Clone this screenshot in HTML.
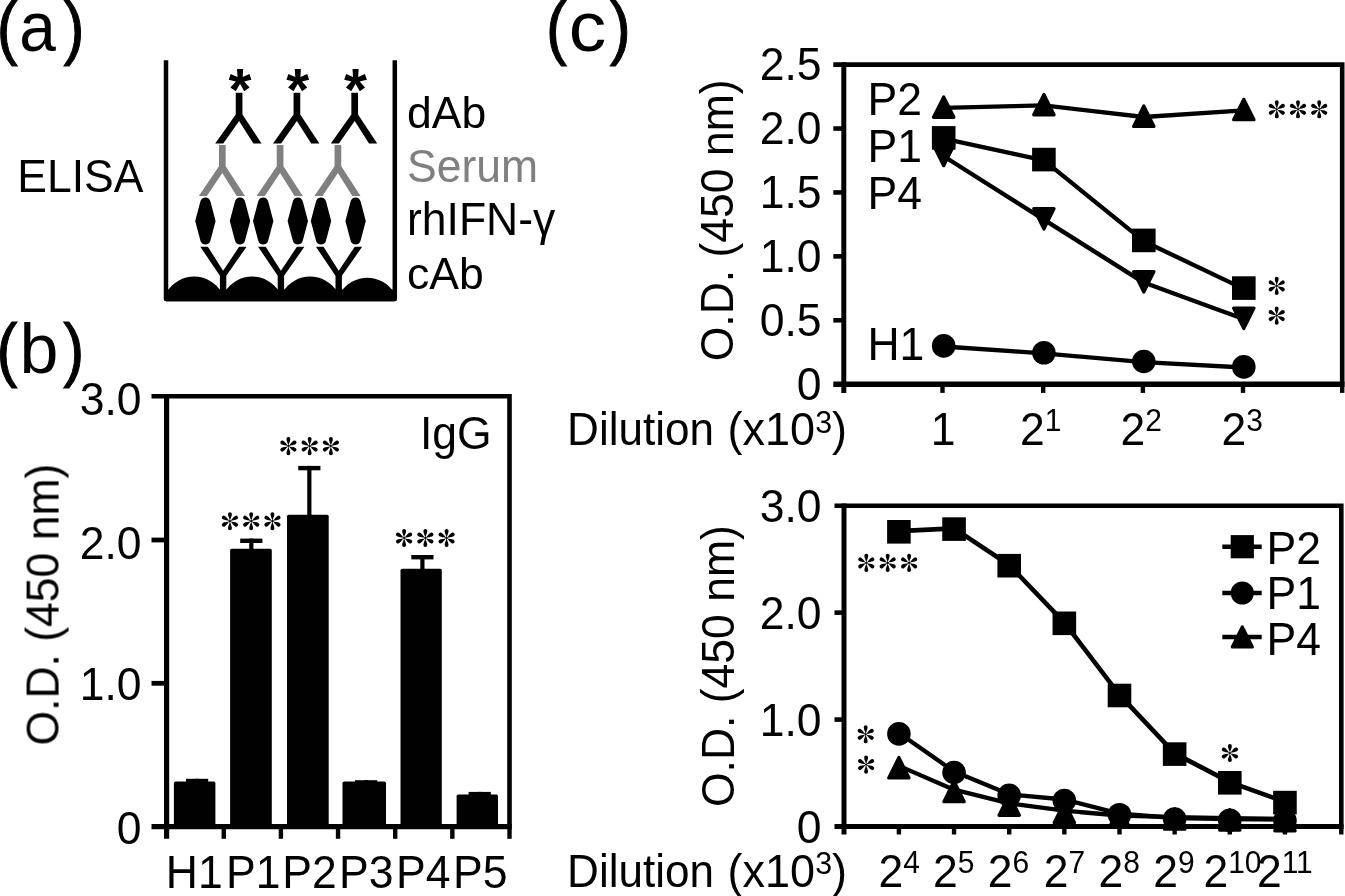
<!DOCTYPE html>
<html><head><meta charset="utf-8"><title>Figure</title>
<style>
html,body{margin:0;padding:0;background:#fff;}
body{width:1345px;height:896px;overflow:hidden;font-family:"Liberation Sans",sans-serif;}
svg{display:block;}
</style></head><body>
<svg width="1345" height="896" viewBox="0 0 1345 896" style="will-change:transform">
<defs><g id="ast"><circle r="1.1"/><path id="pet" d="M0 -0.3 C-0.5 -2.6 -1.95 -5 -1.95 -7.1 A1.95 1.95 0 0 1 1.95 -7.1 C1.95 -5 0.5 -2.6 0 -0.3 Z"/><use href="#pet" transform="rotate(60)"/><use href="#pet" transform="rotate(120)"/><use href="#pet" transform="rotate(180)"/><use href="#pet" transform="rotate(240)"/><use href="#pet" transform="rotate(300)"/></g></defs>
<rect width="1345" height="896" fill="#fff"/>
<g opacity="0.999">
<text transform="translate(-3.3,51) scale(0.9,1)" font-size="70" font-family="Liberation Sans, sans-serif" stroke="#000" stroke-width="1">(</text>
<text transform="translate(63.45,51) scale(0.9,1)" font-size="70" font-family="Liberation Sans, sans-serif" stroke="#000" stroke-width="1">)</text>
<text transform="translate(19.2,51) scale(0.94,1)" font-size="70" fill="#000" font-family="Liberation Sans, sans-serif" text-anchor="start" font-weight="normal">a</text>
<text transform="translate(-3.5,373.1) scale(0.9,1)" font-size="70" font-family="Liberation Sans, sans-serif" stroke="#000" stroke-width="1">(</text>
<text transform="translate(63.35,373.1) scale(0.9,1)" font-size="70" font-family="Liberation Sans, sans-serif" stroke="#000" stroke-width="1">)</text>
<text transform="translate(19.5,373.1) scale(1.0,1)" font-size="70" fill="#000" font-family="Liberation Sans, sans-serif" text-anchor="start" font-weight="normal">b</text>
<text transform="translate(546.0,51.3) scale(0.9,1)" font-size="70" font-family="Liberation Sans, sans-serif" stroke="#000" stroke-width="1">(</text>
<text transform="translate(609.85,51.3) scale(0.9,1)" font-size="70" font-family="Liberation Sans, sans-serif" stroke="#000" stroke-width="1">)</text>
<text transform="translate(568.7,51.3) scale(1.07,1)" font-size="70" fill="#000" font-family="Liberation Sans, sans-serif" text-anchor="start" font-weight="normal">c</text>
<text transform="translate(17.3,192) scale(1,1.035)" font-size="44.5" fill="#000" font-family="Liberation Sans, sans-serif" text-anchor="start" font-weight="normal">ELISA</text>
<text transform="translate(407,128) scale(1,1)" font-size="44.5" fill="#000" font-family="Liberation Sans, sans-serif" text-anchor="start" font-weight="normal">dAb</text>
<text transform="translate(407,181.8) scale(1,1.02)" font-size="44.5" fill="#808080" font-family="Liberation Sans, sans-serif" text-anchor="start" font-weight="normal">Serum</text>
<text transform="translate(407,234.9) scale(1,1.02)" font-size="44.5" fill="#000" font-family="Liberation Sans, sans-serif" text-anchor="start" font-weight="normal">rhIFN-γ</text>
<text transform="translate(407,288.6) scale(1,1)" font-size="44.5" fill="#000" font-family="Liberation Sans, sans-serif" text-anchor="start" font-weight="normal">cAb</text>
<path d="M166 60.3 V299 H394.8 V60.3" fill="none" stroke="#000" stroke-width="4.5" stroke-linejoin="round"/>
<rect x="166" y="289.5" width="228.8" height="11.8" fill="#000"/>
<path d="M167 292 A31.5 31.5 0 0 1 221.2 292 Z" fill="#000"/>
<path d="M225 292 A31.5 31.5 0 0 1 279.2 292 Z" fill="#000"/>
<path d="M283 292 A31.5 31.5 0 0 1 337.2 292 Z" fill="#000"/>
<path d="M341 292 A31.5 31.5 0 0 1 393.6 292 Z" fill="#000"/>
<path d="M219.9 292 V275.7 L200.3 246.7 H207.9 L223.1 270.7 L239.1 246.7 H246.6 L226.29999999999998 275.7 V292 Z" fill="#000"/>
<path d="M195.20000000000002 221 L200.3 201.8 C201.4 196 209.4 196 210.5 201.8 L215.6 221 L210.5 240.2 C209.4 246 201.4 246 200.3 240.2 Z" fill="#000"/>
<path d="M229.8 221 L234.9 201.8 C236.0 196 244.0 196 245.1 201.8 L250.2 221 L245.1 240.2 C244.0 246 236.0 246 234.9 240.2 Z" fill="#000"/>
<path d="M218.95000000000002 145.1 H225.65 V166.3 L245.0 196 H236.7 L222.3 173 L206.9 196 H198.8 L218.95000000000002 166.3 Z" fill="#808080"/>
<path d="M235.75 92.7 H242.45 V114.4 L261.6 143.4 H253.4 L239.1 121.1 L223.3 143.4 H215.2 L235.75 114.4 Z" fill="#000"/>
<text transform="translate(239.9,109.7) scale(1,1)" font-size="59" fill="#000" font-family="Liberation Sans, sans-serif" text-anchor="middle" font-weight="bold">*</text>
<path d="M277.7 292 V275.7 L258.1 246.7 H265.7 L280.9 270.7 L296.9 246.7 H304.4 L284.09999999999997 275.7 V292 Z" fill="#000"/>
<path d="M253.0 221 L258.09999999999997 201.8 C259.2 196 267.2 196 268.3 201.8 L273.4 221 L268.3 240.2 C267.2 246 259.2 246 258.09999999999997 240.2 Z" fill="#000"/>
<path d="M287.6 221 L292.7 201.8 C293.8 196 301.8 196 302.90000000000003 201.8 L308.0 221 L302.90000000000003 240.2 C301.8 246 293.8 246 292.7 240.2 Z" fill="#000"/>
<path d="M276.75 145.1 H283.45000000000005 V166.3 L302.8 196 H294.5 L280.1 173 L264.7 196 H256.6 L276.75 166.3 Z" fill="#808080"/>
<path d="M293.54999999999995 92.7 H300.25 V114.4 L319.40000000000003 143.4 H311.2 L296.9 121.1 L281.1 143.4 H273.0 L293.54999999999995 114.4 Z" fill="#000"/>
<text transform="translate(297.7,109.7) scale(1,1)" font-size="59" fill="#000" font-family="Liberation Sans, sans-serif" text-anchor="middle" font-weight="bold">*</text>
<path d="M335.5 292 V275.7 L315.9 246.7 H323.5 L338.7 270.7 L354.7 246.7 H362.2 L341.9 275.7 V292 Z" fill="#000"/>
<path d="M310.8 221 L315.9 201.8 C317.0 196 325.0 196 326.1 201.8 L331.2 221 L326.1 240.2 C325.0 246 317.0 246 315.9 240.2 Z" fill="#000"/>
<path d="M345.40000000000003 221 L350.5 201.8 C351.6 196 359.6 196 360.70000000000005 201.8 L365.8 221 L360.70000000000005 240.2 C359.6 246 351.6 246 350.5 240.2 Z" fill="#000"/>
<path d="M334.54999999999995 145.1 H341.25 V166.3 L360.6 196 H352.29999999999995 L337.9 173 L322.5 196 H314.4 L334.54999999999995 166.3 Z" fill="#808080"/>
<path d="M351.34999999999997 92.7 H358.05 V114.4 L377.20000000000005 143.4 H369.0 L354.7 121.1 L338.9 143.4 H330.79999999999995 L351.34999999999997 114.4 Z" fill="#000"/>
<text transform="translate(355.5,109.7) scale(1,1)" font-size="59" fill="#000" font-family="Liberation Sans, sans-serif" text-anchor="middle" font-weight="bold">*</text>
<path d="M151.5 396.3 H509.5 V826.6" fill="none" stroke="#000" stroke-width="4.6"/>
<path d="M166.6 394.0 V838.8" fill="none" stroke="#000" stroke-width="5.2"/>
<path d="M151.5 826.6 H511.8" fill="none" stroke="#000" stroke-width="5.4"/>
<path d="M151.5 540 H166.6" stroke="#000" stroke-width="4.8"/>
<path d="M151.5 683.3 H166.6" stroke="#000" stroke-width="4.8"/>
<path d="M223.75 826.6 V838.8" stroke="#000" stroke-width="4.4"/>
<path d="M280.9 826.6 V838.8" stroke="#000" stroke-width="4.4"/>
<path d="M338.04999999999995 826.6 V838.8" stroke="#000" stroke-width="4.4"/>
<path d="M395.2 826.6 V838.8" stroke="#000" stroke-width="4.4"/>
<path d="M452.35 826.6 V838.8" stroke="#000" stroke-width="4.4"/>
<path d="M509.5 826.6 V838.8" stroke="#000" stroke-width="4.4"/>
<rect x="173.9" y="781.5" width="41.5" height="45.1" rx="1.6" fill="#000"/>
<rect x="195.0" y="778.8" width="4.2" height="3.7" fill="#000"/>
<rect x="186.0" y="778.8" width="22.2" height="4.4" fill="#000"/>
<rect x="230.1" y="548.8" width="41.7" height="277.8" rx="1.6" fill="#000"/>
<rect x="249.2" y="538.6" width="4.2" height="11.2" fill="#000"/>
<rect x="240.2" y="538.6" width="22.2" height="4.4" fill="#000"/>
<rect x="287.0" y="514.7" width="41.7" height="311.9" rx="1.6" fill="#000"/>
<rect x="307.25" y="465.9" width="4.2" height="49.8" fill="#000"/>
<rect x="298.25" y="465.9" width="22.2" height="4.4" fill="#000"/>
<rect x="342.5" y="781.6" width="43.5" height="45.0" rx="1.6" fill="#000"/>
<rect x="364.0" y="780.2" width="4.2" height="2.4" fill="#000"/>
<rect x="355.0" y="780.2" width="22.2" height="4.4" fill="#000"/>
<rect x="400.5" y="568.8" width="41.3" height="257.8" rx="1.6" fill="#000"/>
<rect x="420.3" y="555.0" width="4.2" height="14.8" fill="#000"/>
<rect x="411.3" y="555.0" width="22.2" height="4.4" fill="#000"/>
<rect x="456.6" y="794.5" width="41.4" height="32.1" rx="1.6" fill="#000"/>
<rect x="477.6" y="791.9" width="4.2" height="3.6" fill="#000"/>
<rect x="468.6" y="791.9" width="22.2" height="4.4" fill="#000"/>
<text transform="translate(141.6,415.0) scale(1,1.035)" font-size="44.5" fill="#000" font-family="Liberation Sans, sans-serif" text-anchor="end" font-weight="normal">3.0</text>
<text transform="translate(141.6,559.2) scale(1,1.035)" font-size="44.5" fill="#000" font-family="Liberation Sans, sans-serif" text-anchor="end" font-weight="normal">2.0</text>
<text transform="translate(141.6,699.6) scale(1,1.035)" font-size="44.5" fill="#000" font-family="Liberation Sans, sans-serif" text-anchor="end" font-weight="normal">1.0</text>
<text transform="translate(141.6,844.4) scale(1,1.035)" font-size="44.5" fill="#000" font-family="Liberation Sans, sans-serif" text-anchor="end" font-weight="normal">0</text>
<text transform="translate(58.8,745.5) rotate(-90) scale(1,1.03)" font-size="44.5" font-family="Liberation Sans, sans-serif">O.D. (450 nm)</text>
<text transform="translate(419.9,449.2) scale(1,1.035)" font-size="44.5" fill="#000" font-family="Liberation Sans, sans-serif" text-anchor="start" font-weight="normal">IgG</text>
<use href="#ast" x="229.95" y="521.2"/>
<use href="#ast" x="251.2" y="521.2"/>
<use href="#ast" x="272.45" y="521.2"/>
<use href="#ast" x="288.4" y="446.1"/>
<use href="#ast" x="309.65" y="446.1"/>
<use href="#ast" x="330.9" y="446.1"/>
<use href="#ast" x="404.1" y="538.0"/>
<use href="#ast" x="425.35" y="538.0"/>
<use href="#ast" x="446.6" y="538.0"/>
<text transform="translate(165.8,887.5) scale(1,1.035)" font-size="44.5" fill="#000" font-family="Liberation Sans, sans-serif" text-anchor="start" font-weight="normal">H1</text>
<text transform="translate(226.0,887.5) scale(1,1.035)" font-size="44.5" fill="#000" font-family="Liberation Sans, sans-serif" text-anchor="start" font-weight="normal">P1</text>
<text transform="translate(282.3,887.5) scale(1,1.035)" font-size="44.5" fill="#000" font-family="Liberation Sans, sans-serif" text-anchor="start" font-weight="normal">P2</text>
<text transform="translate(339.0,887.5) scale(1,1.035)" font-size="44.5" fill="#000" font-family="Liberation Sans, sans-serif" text-anchor="start" font-weight="normal">P3</text>
<text transform="translate(396.0,887.5) scale(1,1.035)" font-size="44.5" fill="#000" font-family="Liberation Sans, sans-serif" text-anchor="start" font-weight="normal">P4</text>
<text transform="translate(453.0,887.5) scale(1,1.035)" font-size="44.5" fill="#000" font-family="Liberation Sans, sans-serif" text-anchor="start" font-weight="normal">P5</text>
<path d="M833.3 64.6 H1342.2 V384.2" fill="none" stroke="#000" stroke-width="4.6"/>
<path d="M843.8 62.3 V392.9" fill="none" stroke="#000" stroke-width="5"/>
<path d="M833.3 384.2 H1344.5" fill="none" stroke="#000" stroke-width="5.6"/>
<path d="M833.3 128.51999999999998 H843.8" stroke="#000" stroke-width="4.6"/>
<path d="M833.3 192.44 H843.8" stroke="#000" stroke-width="4.6"/>
<path d="M833.3 256.36 H843.8" stroke="#000" stroke-width="4.6"/>
<path d="M833.3 320.28 H843.8" stroke="#000" stroke-width="4.6"/>
<path d="M942.5 384.2 V392.9" stroke="#000" stroke-width="4.4"/>
<path d="M1043.2 384.2 V392.9" stroke="#000" stroke-width="4.4"/>
<path d="M1142.9 384.2 V392.9" stroke="#000" stroke-width="4.4"/>
<path d="M1243.0 384.2 V392.9" stroke="#000" stroke-width="4.4"/>
<path d="M1342.2 384.2 V392.9" stroke="#000" stroke-width="4.4"/>
<text transform="translate(821.5,80.39999999999999) scale(1,1.035)" font-size="44.5" fill="#000" font-family="Liberation Sans, sans-serif" text-anchor="end" font-weight="normal">2.5</text>
<text transform="translate(821.5,144.32) scale(1,1.035)" font-size="44.5" fill="#000" font-family="Liberation Sans, sans-serif" text-anchor="end" font-weight="normal">2.0</text>
<text transform="translate(821.5,208.24) scale(1,1.035)" font-size="44.5" fill="#000" font-family="Liberation Sans, sans-serif" text-anchor="end" font-weight="normal">1.5</text>
<text transform="translate(821.5,272.16) scale(1,1.035)" font-size="44.5" fill="#000" font-family="Liberation Sans, sans-serif" text-anchor="end" font-weight="normal">1.0</text>
<text transform="translate(821.5,336.08) scale(1,1.035)" font-size="44.5" fill="#000" font-family="Liberation Sans, sans-serif" text-anchor="end" font-weight="normal">0.5</text>
<text transform="translate(821.5,400.2) scale(1,1.035)" font-size="44.5" fill="#000" font-family="Liberation Sans, sans-serif" text-anchor="end" font-weight="normal">0</text>
<text transform="translate(733.4,361.3) rotate(-90) scale(1,1.03)" font-size="44.5" font-family="Liberation Sans, sans-serif">O.D. (450 nm)</text>
<text transform="translate(867.5,115) scale(1,1.035)" font-size="44.5" fill="#000" font-family="Liberation Sans, sans-serif" text-anchor="start" font-weight="normal">P2</text>
<text transform="translate(867.5,161.6) scale(1,1.035)" font-size="44.5" fill="#000" font-family="Liberation Sans, sans-serif" text-anchor="start" font-weight="normal">P1</text>
<text transform="translate(867.5,208.5) scale(1,1.035)" font-size="44.5" fill="#000" font-family="Liberation Sans, sans-serif" text-anchor="start" font-weight="normal">P4</text>
<text transform="translate(867.5,359.6) scale(1,1.035)" font-size="44.5" fill="#000" font-family="Liberation Sans, sans-serif" text-anchor="start" font-weight="normal">H1</text>
<path d="M943.7 346.5 L1043.9 353.4 L1143.8 362.1 L1243.8 367.5" fill="none" stroke="#000" stroke-width="4.3" stroke-linejoin="round"/>
<circle cx="943.7" cy="345.9" r="11.8" fill="#000"/>
<circle cx="1043.9" cy="352.8" r="11.8" fill="#000"/>
<circle cx="1143.8" cy="361.5" r="11.8" fill="#000"/>
<circle cx="1243.8" cy="366.9" r="11.8" fill="#000"/>
<path d="M943.7 156.3 L1043.9 219.6 L1143.8 282.6 L1243.8 319.1" fill="none" stroke="#000" stroke-width="4.3" stroke-linejoin="round"/>
<path d="M943.7 165.7 L953.9000000000001 145.3 H933.5 Z" fill="#000" stroke="#000" stroke-width="3.2" stroke-linejoin="round"/>
<path d="M1043.9 229.0 L1054.1000000000001 208.60000000000002 H1033.7 Z" fill="#000" stroke="#000" stroke-width="3.2" stroke-linejoin="round"/>
<path d="M1143.8 292.0 L1154.0 271.6 H1133.6 Z" fill="#000" stroke="#000" stroke-width="3.2" stroke-linejoin="round"/>
<path d="M1243.8 328.5 L1254.0 308.1 H1233.6 Z" fill="#000" stroke="#000" stroke-width="3.2" stroke-linejoin="round"/>
<path d="M943.7 138.7 L1043.9 160.4 L1143.8 241.2 L1243.8 288.9" fill="none" stroke="#000" stroke-width="4.3" stroke-linejoin="round"/>
<rect x="931.9000000000001" y="126.10000000000001" width="23.6" height="23.6" fill="#000"/>
<rect x="1032.1000000000001" y="147.79999999999998" width="23.6" height="23.6" fill="#000"/>
<rect x="1132.0" y="228.6" width="23.6" height="23.6" fill="#000"/>
<rect x="1232.0" y="276.3" width="23.6" height="23.6" fill="#000"/>
<path d="M943.7 107.9 L1043.9 105.4 L1143.8 117.0 L1243.8 110.3" fill="none" stroke="#000" stroke-width="4.3" stroke-linejoin="round"/>
<path d="M943.7 96.89999999999999 L953.9000000000001 117.3 H933.5 Z" fill="#000" stroke="#000" stroke-width="3.2" stroke-linejoin="round"/>
<path d="M1043.9 94.39999999999999 L1054.1000000000001 114.8 H1033.7 Z" fill="#000" stroke="#000" stroke-width="3.2" stroke-linejoin="round"/>
<path d="M1143.8 106.0 L1154.0 126.4 H1133.6 Z" fill="#000" stroke="#000" stroke-width="3.2" stroke-linejoin="round"/>
<path d="M1243.8 99.3 L1254.0 119.7 H1233.6 Z" fill="#000" stroke="#000" stroke-width="3.2" stroke-linejoin="round"/>
<use href="#ast" x="1276.8" y="109.3"/>
<use href="#ast" x="1298.0" y="109.3"/>
<use href="#ast" x="1319.2" y="109.3"/>
<use href="#ast" x="1276.7" y="285.9"/>
<use href="#ast" x="1276.7" y="315.6"/>
<text transform="translate(567.1,444.8) scale(0.99,1.03)" font-size="44.5" font-family="Liberation Sans, sans-serif">Dilution</text>
<text transform="translate(727.6,444.8) scale(1.0115,1.03)" font-size="44.5" font-family="Liberation Sans, sans-serif">(x10<tspan font-size="30" dy="-11.3">3</tspan><tspan dy="11.3">)</tspan></text>
<text transform="translate(943.2,444.5) scale(1,1.035)" font-size="44.5" fill="#000" font-family="Liberation Sans, sans-serif" text-anchor="middle" font-weight="normal">1</text>
<text transform="translate(1020.1,444.5) scale(1,1.035)" font-size="44.5" font-family="Liberation Sans, sans-serif">2<tspan font-size="30" dy="-12.8" dx="0">1</tspan></text>
<text transform="translate(1120.4,444.5) scale(1,1.035)" font-size="44.5" font-family="Liberation Sans, sans-serif">2<tspan font-size="30" dy="-12.8" dx="0">2</tspan></text>
<text transform="translate(1221.5,444.5) scale(1,1.035)" font-size="44.5" font-family="Liberation Sans, sans-serif">2<tspan font-size="30" dy="-12.8" dx="0">3</tspan></text>
<path d="M834.5 505.7 H1341.3 V826.5" fill="none" stroke="#000" stroke-width="4.6"/>
<path d="M844 503.4 V834.5" fill="none" stroke="#000" stroke-width="5"/>
<path d="M834.5 826.5 H1343.6" fill="none" stroke="#000" stroke-width="5.2"/>
<path d="M834.5 612.63 H844" stroke="#000" stroke-width="4.6"/>
<path d="M834.5 719.56 H844" stroke="#000" stroke-width="4.6"/>
<path d="M898.9 826.5 V834.5" stroke="#000" stroke-width="4.4"/>
<path d="M954.05 826.5 V834.5" stroke="#000" stroke-width="4.4"/>
<path d="M1009.1999999999999 826.5 V834.5" stroke="#000" stroke-width="4.4"/>
<path d="M1064.35 826.5 V834.5" stroke="#000" stroke-width="4.4"/>
<path d="M1119.5 826.5 V834.5" stroke="#000" stroke-width="4.4"/>
<path d="M1174.65 826.5 V834.5" stroke="#000" stroke-width="4.4"/>
<path d="M1229.8 826.5 V834.5" stroke="#000" stroke-width="4.4"/>
<path d="M1284.95 826.5 V834.5" stroke="#000" stroke-width="4.4"/>
<path d="M1341.3 826.5 V834.5" stroke="#000" stroke-width="4.4"/>
<text transform="translate(821.5,522.2) scale(1,1.035)" font-size="44.5" fill="#000" font-family="Liberation Sans, sans-serif" text-anchor="end" font-weight="normal">3.0</text>
<text transform="translate(821.5,629.13) scale(1,1.035)" font-size="44.5" fill="#000" font-family="Liberation Sans, sans-serif" text-anchor="end" font-weight="normal">2.0</text>
<text transform="translate(821.5,736.06) scale(1,1.035)" font-size="44.5" fill="#000" font-family="Liberation Sans, sans-serif" text-anchor="end" font-weight="normal">1.0</text>
<text transform="translate(821.5,843.2) scale(1,1.035)" font-size="44.5" fill="#000" font-family="Liberation Sans, sans-serif" text-anchor="end" font-weight="normal">0</text>
<text transform="translate(733.6,807) rotate(-90) scale(1,1.03)" font-size="44.5" font-family="Liberation Sans, sans-serif">O.D. (450 nm)</text>
<path d="M898.9 531.1 L954.05 528.4 L1009.1999999999999 565.0 L1064.35 622.6 L1119.5 694.8 L1174.65 753.4 L1229.8 782.1 L1284.95 801.9" fill="none" stroke="#000" stroke-width="4.6" stroke-linejoin="round"/>
<rect x="887.1" y="520.0" width="23.6" height="23.6" fill="#000"/>
<rect x="942.25" y="517.3000000000001" width="23.6" height="23.6" fill="#000"/>
<rect x="997.4" y="553.9000000000001" width="23.6" height="23.6" fill="#000"/>
<rect x="1052.55" y="611.5" width="23.6" height="23.6" fill="#000"/>
<rect x="1107.7" y="683.7" width="23.6" height="23.6" fill="#000"/>
<rect x="1162.8500000000001" y="742.3000000000001" width="23.6" height="23.6" fill="#000"/>
<rect x="1218.0" y="771.0" width="23.6" height="23.6" fill="#000"/>
<rect x="1273.15" y="790.8000000000001" width="23.6" height="23.6" fill="#000"/>
<path d="M898.9 765.9 L954.05 789.7 L1009.1999999999999 803.3 L1064.35 810.7 L1119.5 815.5 L1174.65 817.2 L1229.8 818.1 L1284.95 818.8" fill="none" stroke="#000" stroke-width="4.3" stroke-linejoin="round"/>
<path d="M898.9 757.5 L909.1 777.9000000000001 H888.6999999999999 Z" fill="#000" stroke="#000" stroke-width="3.2" stroke-linejoin="round"/>
<path d="M954.05 781.3 L964.25 801.7 H943.8499999999999 Z" fill="#000" stroke="#000" stroke-width="3.2" stroke-linejoin="round"/>
<path d="M1009.1999999999999 794.9 L1019.4 815.3000000000001 H998.9999999999999 Z" fill="#000" stroke="#000" stroke-width="3.2" stroke-linejoin="round"/>
<path d="M1064.35 802.3 L1074.55 822.7 H1054.1499999999999 Z" fill="#000" stroke="#000" stroke-width="3.2" stroke-linejoin="round"/>
<path d="M1119.5 807.0999999999999 L1129.7 827.5 H1109.3 Z" fill="#000" stroke="#000" stroke-width="3.2" stroke-linejoin="round"/>
<path d="M1174.65 808.8 L1184.8500000000001 829.2 H1164.45 Z" fill="#000" stroke="#000" stroke-width="3.2" stroke-linejoin="round"/>
<path d="M1229.8 809.6999999999999 L1240.0 830.1 H1219.6 Z" fill="#000" stroke="#000" stroke-width="3.2" stroke-linejoin="round"/>
<path d="M1284.95 810.4 L1295.15 830.8000000000001 H1274.75 Z" fill="#000" stroke="#000" stroke-width="3.2" stroke-linejoin="round"/>
<path d="M898.9 732.9 L954.05 771.5 L1009.1999999999999 794.3 L1064.35 799.5 L1119.5 813.7 L1174.65 818.0 L1229.8 819.2 L1284.95 819.6" fill="none" stroke="#000" stroke-width="4.3" stroke-linejoin="round"/>
<circle cx="898.9" cy="733.9" r="11.8" fill="#000"/>
<circle cx="954.05" cy="772.5" r="11.8" fill="#000"/>
<circle cx="1009.1999999999999" cy="795.3" r="11.8" fill="#000"/>
<circle cx="1064.35" cy="800.5" r="11.8" fill="#000"/>
<circle cx="1119.5" cy="814.7" r="11.8" fill="#000"/>
<circle cx="1174.65" cy="819.0" r="11.8" fill="#000"/>
<circle cx="1229.8" cy="820.2" r="11.8" fill="#000"/>
<circle cx="1284.95" cy="820.6" r="11.8" fill="#000"/>
<use href="#ast" x="866.3" y="562.9"/>
<use href="#ast" x="887.7" y="562.9"/>
<use href="#ast" x="909.1" y="562.9"/>
<use href="#ast" x="865.7" y="734.3"/>
<use href="#ast" x="866.1" y="764.6"/>
<use href="#ast" x="1229.9" y="753.0"/>
<path d="M1222.3 546.7 H1261.7" stroke="#000" stroke-width="4.6"/>
<rect x="1230.7" y="535.1" width="23.2" height="23.2" fill="#000"/>
<text transform="translate(1266.5,563.6) scale(1,1.035)" font-size="44.5" fill="#000" font-family="Liberation Sans, sans-serif" text-anchor="start" font-weight="normal">P2</text>
<path d="M1222.3 593.0 H1261.7" stroke="#000" stroke-width="4.6"/>
<circle cx="1242.3" cy="593.0" r="11.6" fill="#000"/>
<text transform="translate(1266.5,609.3) scale(1,1.035)" font-size="44.5" fill="#000" font-family="Liberation Sans, sans-serif" text-anchor="start" font-weight="normal">P1</text>
<path d="M1222.3 637.0 H1261.7" stroke="#000" stroke-width="4.6"/>
<path d="M1242.3 627.0 L1252.3 647.0 H1232.3 Z" fill="#000" stroke="#000" stroke-width="3.2" stroke-linejoin="round"/>
<text transform="translate(1266.5,655.4) scale(1,1.035)" font-size="44.5" fill="#000" font-family="Liberation Sans, sans-serif" text-anchor="start" font-weight="normal">P4</text>
<text transform="translate(567.1,886.7) scale(0.99,1.03)" font-size="44.5" font-family="Liberation Sans, sans-serif">Dilution</text>
<text transform="translate(727.6,886.7) scale(1.0115,1.03)" font-size="44.5" font-family="Liberation Sans, sans-serif">(x10<tspan font-size="30" dy="-12.6">3</tspan><tspan dy="12.6">)</tspan></text>
<text transform="translate(878.4,886.7) scale(1,1.035)" font-size="44.5" font-family="Liberation Sans, sans-serif">2<tspan font-size="30" dy="-12.8" dx="0">4</tspan></text>
<text transform="translate(933.1,886.7) scale(1,1.035)" font-size="44.5" font-family="Liberation Sans, sans-serif">2<tspan font-size="30" dy="-12.8" dx="0">5</tspan></text>
<text transform="translate(987.8,886.7) scale(1,1.035)" font-size="44.5" font-family="Liberation Sans, sans-serif">2<tspan font-size="30" dy="-12.8" dx="0">6</tspan></text>
<text transform="translate(1043.7,886.7) scale(1,1.035)" font-size="44.5" font-family="Liberation Sans, sans-serif">2<tspan font-size="30" dy="-12.8" dx="0">7</tspan></text>
<text transform="translate(1098.6,886.7) scale(1,1.035)" font-size="44.5" font-family="Liberation Sans, sans-serif">2<tspan font-size="30" dy="-12.8" dx="0">8</tspan></text>
<text transform="translate(1153.3,886.7) scale(1,1.035)" font-size="44.5" font-family="Liberation Sans, sans-serif">2<tspan font-size="30" dy="-12.8" dx="0">9</tspan></text>
<text transform="translate(1203.4,886.7) scale(1,1.035)" font-size="44.5" font-family="Liberation Sans, sans-serif">2<tspan font-size="30" dy="-12.8" dx="0">10</tspan></text>
<text transform="translate(1256.9,886.7) scale(1,1.035)" font-size="44.5" font-family="Liberation Sans, sans-serif">2<tspan font-size="30" dy="-12.8" dx="0">11</tspan></text>
</g>
</svg>
</body></html>
